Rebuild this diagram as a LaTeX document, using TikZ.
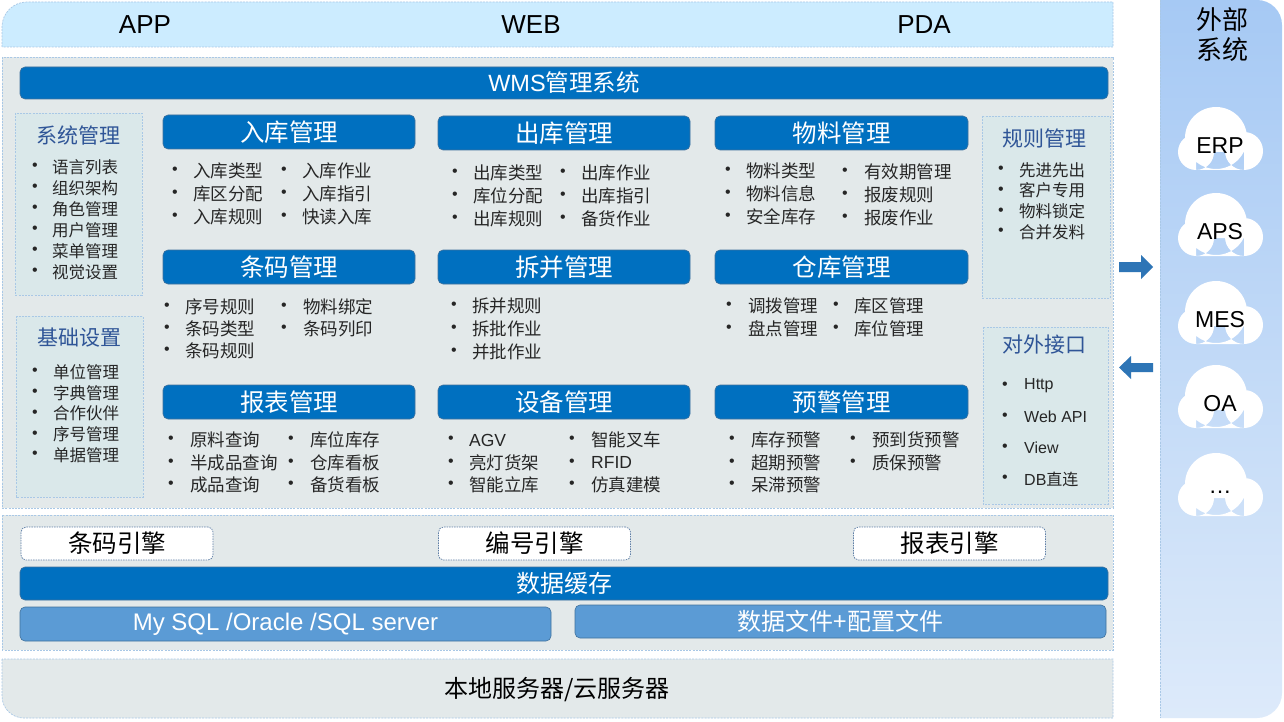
\documentclass[tikz,border=0pt]{standalone}
\usepackage{fontspec}
\setmainfont{Noto Sans CJK SC}
\newfontfamily\cjkf{Noto Sans CJK SC}
\newfontfamily\lat{Liberation Sans}
\newcommand\fsz[1]{\fontsize{#1}{#1}\selectfont}
\definecolor{topbar}{HTML}{CCECFF}
\definecolor{panel}{HTML}{E3E9EA}
\definecolor{side}{HTML}{DAE8EA}
\definecolor{dashc}{HTML}{A9C8E6}
\definecolor{wblue}{HTML}{0070C0}
\definecolor{mblue}{HTML}{5B9BD5}
\definecolor{barline}{HTML}{41719C}
\definecolor{engline}{HTML}{5F7FA6}
\definecolor{tblue}{HTML}{2F5597}
\definecolor{arr}{HTML}{2E75B6}
\definecolor{txt}{HTML}{262626}
\definecolor{extTop}{HTML}{A6C9F4}
\definecolor{extBot}{HTML}{DDEAFA}
\newcommand\bullist[7][]{%
  \foreach \ntxt [count=\nidx] in {#7} {%
    \node[bul] (#2b\nidx) at (#3,{#4+#6*(\nidx-1)}) {•};
    \node[item,#1] (#2\nidx) at (#5,{#4+#6*(\nidx-1)}) {\ntxt};
  }}
\newcommand\cloudshape[2]{%
  \fill[white] (#1-4,#2-8) circle (31) (#1-24,#2+6) circle (18) (#1+24,#2+5) circle (19)
    (#1-24,#2+6) rectangle (#1+24,#2+24);}
\begin{document}
\begin{tikzpicture}[x=1pt,y=-1pt,
  dashbox/.style={draw=dashc, dash pattern=on 2pt off 1.2pt, line width=0.7pt},
  bluebar/.style={fill=wblue, draw=barline, line width=0.6pt, rounded corners=5pt, text=white, inner sep=0pt},
  hdr/.style={bluebar, minimum width=252, minimum height=34, font=\fsz{24.5}},
  dbbar/.style={fill=mblue, draw=barline, line width=0.6pt, rounded corners=5pt, text=white, inner sep=0pt, minimum width=531, minimum height=34, font=\fsz{24}},
  engine/.style={fill=white, draw=engline, dash pattern=on 1.5pt off 1pt, line width=0.7pt, rounded corners=5pt, minimum width=192, minimum height=33, inner sep=0pt, font=\fsz{24.5}},
  bul/.style={inner sep=0pt, text=txt, font=\lat\fsz{16}},
  item/.style={anchor=west, inner sep=0pt, text=txt, font=\fsz{17.5}},
  small/.style={font=\fsz{16.5}},
  sidetitle/.style={inner sep=0pt, text=tblue, font=\fsz{21}},
  cloudtext/.style={inner sep=0pt, font=\lat\fsz{23}},
  bigtext/.style={inner sep=0pt, font=\lat\fsz{26}},
]
\useasboundingbox (0,0) rectangle (1284,722);
\fill[white] (0,0) rectangle (1284,722);

% ---------- top bar ----------
\path[fill=topbar, dashbox] (2,47) -- (2,27) arc[start angle=180, end angle=270, radius=25] -- (1113,2) -- (1113,47) -- cycle;
\node[bigtext] (app) at (145,25) {APP};
\node[bigtext] (web) at (531,25) {WEB};
\node[bigtext] (pda) at (924,25) {PDA};

% ---------- main panel ----------
\path[fill=panel, dashbox] (2,57) rectangle (1113,508);
\node[bluebar, minimum width=1088, minimum height=32, font=\fsz{23.5}] (wms) at (564,83) {{\lat WMS}管理系统};

% left side panels
\path[fill=side, dashbox] (15,113) rectangle (142,295);
\node[sidetitle] (sysm) at (78,135) {系统管理};
\bullist[small]{sy}{35}{167}{52}{21}{语言列表,组织架构,角色管理,用户管理,菜单管理,视觉设置}

\path[fill=side, dashbox] (16,316) rectangle (143,497);
\node[sidetitle] (base) at (79,338) {基础设置};
\bullist[small]{bs}{35}{372}{53}{20.8}{单位管理,字典管理,合作伙伴,序号管理,单据管理}

% right side panels
\path[fill=side, dashbox] (982,116) rectangle (1110,298);
\node[sidetitle] (rule) at (1044,138) {规则管理};
\bullist[small]{ru}{1001}{170}{1019}{20.7}{先进先出,客户专用,物料锁定,合并发料}

\path[fill=side, dashbox] (983,327) rectangle (1108,504);
\node[sidetitle] (intf) at (1044,345) {对外接口};
\bullist[{font=\lat\fsz{16}}]{it}{1005}{386}{1024}{31}{Http,Web API,View,DB\cjkf 直连}

% module headers
\node[hdr] (h1) at (289,132) {入库管理};
\node[hdr] (h2) at (564,133) {出库管理};
\node[hdr, minimum width=253] (h3) at (841.5,133) {物料管理};
\node[hdr] (h4) at (289,267) {条码管理};
\node[hdr] (h5) at (564,267) {拆并管理};
\node[hdr, minimum width=253] (h6) at (841.5,267) {仓库管理};
\node[hdr] (h7) at (289,402) {报表管理};
\node[hdr] (h8) at (564,402) {设备管理};
\node[hdr, minimum width=253] (h9) at (841.5,402) {预警管理};

% module items
\bullist{ia}{175}{171}{193}{23}{入库类型,库区分配,入库规则}
\bullist{ib}{284}{171}{302}{23}{入库作业,入库指引,快读入库}
\bullist{oa}{455}{173}{473}{23}{出库类型,库位分配,出库规则}
\bullist{ob}{563}{173}{581}{23}{出库作业,出库指引,备货作业}
\bullist{ma}{728}{171}{746}{23}{物料类型,物料信息,安全库存}
\bullist{mb}{845}{172}{864}{23}{有效期管理,报废规则,报废作业}
\bullist{ba}{167}{307}{185}{22}{序号规则,条码类型,条码规则}
\bullist{bb}{284}{307}{303}{22}{物料绑定,条码列印}
\bullist{ca}{454}{306}{472}{23}{拆并规则,拆批作业,并批作业}
\bullist{wa}{729}{306}{748}{23}{调拨管理,盘点管理}
\bullist{wb}{836}{306}{854}{23}{库区管理,库位管理}
\bullist{ra}{171}{440}{190}{22.5}{原料查询,半成品查询,成品查询}
\bullist{rb}{291}{440}{310}{22.5}{库位库存,仓库看板,备货看板}
\bullist{ea}{451}{440}{469}{22.5}{\lat AGV,亮灯货架,智能立库}
\bullist{eb}{572}{440}{591}{22.5}{智能叉车,\lat RFID,仿真建模}
\bullist{pa}{732}{440}{751}{22.5}{库存预警,超期预警,呆滞预警}
\bullist{pb}{853}{440}{872}{22.5}{预到货预警,质保预警}

% ---------- data layer ----------
\path[fill=panel, dashbox] (2,515) rectangle (1113,650);
\node[engine] (e1) at (117,543.5) {条码引擎};
\node[engine] (e2) at (534.5,543.5) {编号引擎};
\node[engine] (e3) at (949.5,543.5) {报表引擎};
\node[bluebar, minimum width=1088, minimum height=33, font=\fsz{24}] (cache) at (564,583.5) {数据缓存};
\node[dbbar, font=\lat\fsz{24}] (db) at (285.5,624) {My SQL /Oracle /SQL server};
\node[dbbar, minimum height=33] (files) at (840.5,621.5) {数据文件+配置文件};

% ---------- server layer ----------
\path[fill=panel, dashbox] (2,659) -- (2,696) arc[start angle=180, end angle=90, radius=22] -- (1113,718) -- (1113,659) -- cycle;
\node[inner sep=0pt, font=\fsz{24}] (srv) at (557,690) {本地服务器/云服务器};

% ---------- external systems ----------
\shade[top color=extTop, bottom color=extBot] (1160,0) -- (1257,0) arc[start angle=270, end angle=360, radius=25] -- (1282,693) arc[start angle=0, end angle=90, radius=25] -- (1160,718) -- cycle;
\draw[dashbox] (1160,0) -- (1160,718);
\node[inner sep=0pt, align=center, font=\fontsize{26}{30}\selectfont] (ext) at (1222,35) {外部\\系统};
\cloudshape{1220}{146}
\node[cloudtext] (erp) at (1220,146) {ERP};
\cloudshape{1220}{232}
\node[cloudtext] (aps) at (1220,232) {APS};
\cloudshape{1220}{320}
\node[cloudtext] (mes) at (1220,320) {MES};
\cloudshape{1220}{404}
\node[cloudtext] (oa) at (1220,404) {OA};
\cloudshape{1220}{492}
\node[cloudtext] (more) at (1220,492) {…};

% arrows
\fill[arr] (1119,262) -- (1141,262) -- (1141,255) -- (1153,267) -- (1141,279) -- (1141,272) -- (1119,272) -- cycle;
\fill[arr] (1153,363) -- (1131,363) -- (1131,356) -- (1119,367.5) -- (1131,379) -- (1131,372) -- (1153,372) -- cycle;
\end{tikzpicture}
\end{document}
